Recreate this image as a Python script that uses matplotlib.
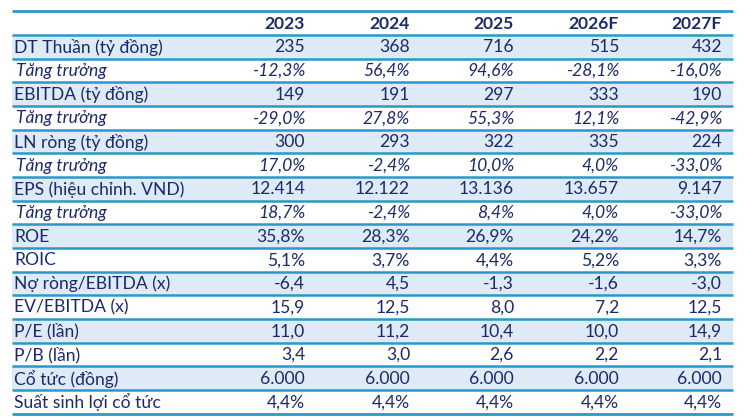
import matplotlib.pyplot as plt

years = ["2023", "2024", "2025", "2026F", "2027F"]

row_labels = [
    "DT Thuần (tỷ đồng)", "Tăng trưởng",
    "EBITDA (tỷ đồng)", "Tăng trưởng",
    "LN ròng (tỷ đồng)", "Tăng trưởng",
    "EPS (hiệu chỉnh. VND)", "Tăng trưởng",
    "ROE", "ROIC", "Nợ ròng/EBITDA (x)", "EV/EBITDA (x)",
    "P/E (lần)", "P/B (lần)", "Cổ tức (đồng)", "Suất sinh lợi cổ tức",
]

revenue = [235, 368, 716, 515, 432]
revenue_growth = [-12.3, 56.4, 94.6, -28.1, -16.0]
ebitda = [149, 191, 297, 333, 190]
ebitda_growth = [-29.0, 27.8, 55.3, 12.1, -42.9]
net_income = [300, 293, 322, 335, 224]
net_income_growth = [17.0, -2.4, 10.0, 4.0, -33.0]
eps = [12414, 12122, 13136, 13657, 9147]
eps_growth = [18.7, -2.4, 8.4, 4.0, -33.0]
roe = [35.8, 28.3, 26.9, 24.2, 14.7]
roic = [5.1, 3.7, 4.4, 5.2, 3.3]
net_debt_ebitda = [-6.4, 4.5, -1.3, -1.6, -3.0]
ev_ebitda = [15.9, 12.5, 8.0, 7.2, 12.5]
pe = [11.0, 11.2, 10.4, 10.0, 14.9]
pb = [3.4, 3.0, 2.6, 2.2, 2.1]
dividend = [6000, 6000, 6000, 6000, 6000]
dividend_yield = [4.4, 4.4, 4.4, 4.4, 4.4]

NAVY = "#1b2a6b"
LINE = "#2a98c8"
SHADE = "#deeaf6"


def fmt_int(v):
    return f"{v:,.0f}".replace(",", ".")


def fmt_dec(v):
    return f"{v:.1f}".replace(".", ",")


def fmt_pct(v):
    return fmt_dec(v) + "%"


rows = [
    (revenue, fmt_int), (revenue_growth, fmt_pct),
    (ebitda, fmt_int), (ebitda_growth, fmt_pct),
    (net_income, fmt_int), (net_income_growth, fmt_pct),
    (eps, fmt_int), (eps_growth, fmt_pct),
    (roe, fmt_pct), (roic, fmt_pct),
    (net_debt_ebitda, fmt_dec), (ev_ebitda, fmt_dec),
    (pe, fmt_dec), (pb, fmt_dec),
    (dividend, fmt_int), (dividend_yield, fmt_pct),
]
italic_rows = {1, 3, 5, 7}

fig = plt.figure(figsize=(7.54, 4.19), dpi=100)
ax = fig.add_axes([0, 0, 1, 1])
ax.set_xlim(0, 754)
ax.set_ylim(419, 0)
ax.axis("off")

left, right = 12, 733
top, row_h = 11.5, 23.65
col_right = [305, 410, 514, 619, 722]
font = dict(family="Lato", color=NAVY, fontsize=12.6, va="center")

# header
ax.hlines(top, left, right, color=LINE, lw=2.0)
yc = top + row_h / 2
for x, y in zip(col_right, years):
    ax.text(x, yc + 1, y, ha="right", fontweight="bold", **font)

for i, (label, (vals, f)) in enumerate(zip(row_labels, rows)):
    y0 = top + row_h * (i + 1)
    yc = y0 + row_h / 2 + 0.5
    if i % 2 == 0:
        ax.barh(y0 + row_h / 2, right - left, height=row_h, left=left,
                color=SHADE, zorder=0)
    style = "italic" if i in italic_rows else "normal"
    ax.text(14 if style == "normal" else 16, yc, label, ha="left",
            fontstyle=style, **font)
    for x, v in zip(col_right, vals):
        ax.text(x, yc, f(v), ha="right", fontstyle=style, **font)
    ax.hlines(y0, left, right, color=LINE, lw=1.8, zorder=2)

ax.hlines(top + row_h * (len(rows) + 1), left, right, color=LINE, lw=2.0, zorder=2)

fig.savefig("out.png", dpi=100)
